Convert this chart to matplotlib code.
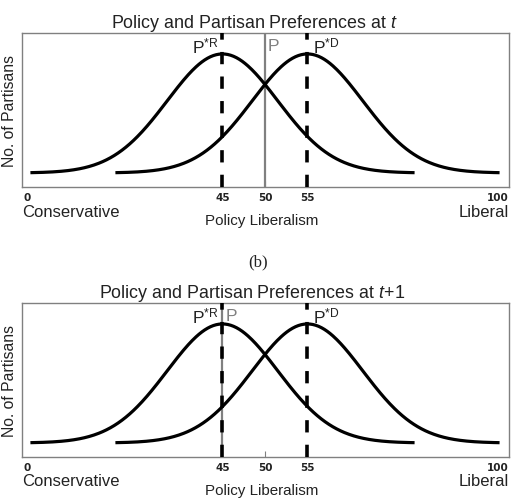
import numpy as np
import matplotlib
matplotlib.use("Agg")
import matplotlib.pyplot as plt

plt.rcParams['font.family'] = ['Liberation Sans', 'DejaVu Sans']
plt.rcParams['mathtext.fontset'] = 'custom'
plt.rcParams['mathtext.rm'] = 'Liberation Sans'
plt.rcParams['mathtext.it'] = 'Liberation Sans:italic'

# ---- data ----
rep_mean = 45
dem_mean = 55
spread_sd = 6.5
curve_halfwidth = 22.6
policy_t = 50
policy_t1 = 45
major_ticks = [45, 50, 55]
major_labels = ["45", "50", "55"]
end_ticks = [22.0, 77.4]
end_labels = ["0", "100"]
titles = ["Policy and Partisan Preferences at $\\it{t}$",
          "Policy and Partisan Preferences at $\\it{t\\!+\\!1}$"]
policies = [policy_t, policy_t1]

TXT = "#222222"
GRAY = "#808080"

fig = plt.figure(figsize=(5.16, 5.01), dpi=100)
W, H = 516, 501

def fx(px):
    return px / W

def fy(py):
    return 1 - py / H

def panel(top_px, title, policy, title_y, title_x):
    bottom_px = top_px + 154
    ax = fig.add_axes([fx(22), fy(bottom_px), fx(509) - fx(22), 154 / H])
    ax.set_xlim(21.41, 78.71)
    ax.set_ylim(-0.118, 1.176)
    for mu in (rep_mean, dem_mean):
        x = np.linspace(mu - curve_halfwidth, mu + curve_halfwidth, 400)
        y = np.exp(-(x - mu) ** 2 / (2 * spread_sd ** 2))
        ax.plot(x, y, color="black", lw=2.3, solid_capstyle="butt", zorder=3)
    for mu in (rep_mean, dem_mean):
        ax.axvline(mu, color="black", lw=2.6, dashes=(3.4, 3.4),
                   dash_capstyle="butt", zorder=4)
    ax.axvline(policy, color=GRAY, lw=1.6, zorder=2)
    for s in ax.spines.values():
        s.set_color(GRAY)
        s.set_linewidth(1.0)
    ax.set_yticks([])
    ax.set_xticks(major_ticks)
    ax.set_xticklabels(major_labels)
    ax.set_xticks(end_ticks, minor=True)
    ax.set_xticklabels(end_labels, minor=True)
    ax.tick_params(axis="x", which="major", direction="in", length=4,
                   color=GRAY, pad=4, labelsize=7.5, labelcolor=TXT)
    ax.tick_params(axis="x", which="minor", direction="in", length=0,
                   pad=4, labelsize=7.5, labelcolor=TXT)
    for lab in ax.get_xticklabels(which="both"):
        lab.set_fontfamily("DejaVu Sans")
        lab.set_fontweight("bold")
    # line labels
    ytxt = 1.06
    ax.text(rep_mean - 0.5, ytxt, r"P$^{\mathregular{*R}}$", ha="right",
            va="center", fontsize=12.5, color=TXT, zorder=6)
    ax.text(dem_mean + 0.6, ytxt, r"P$^{\mathregular{*D}}$", ha="left",
            va="center", fontsize=12.5, color=TXT, zorder=6)
    ax.text(policy + 0.35, ytxt, "P", ha="left", va="center",
            fontsize=12.5, color=GRAY, zorder=6)
    # side labels
    fig.text(fx(22), fy(bottom_px + 25), "Conservative", ha="left",
             va="center", fontsize=12, color=TXT)
    fig.text(fx(509), fy(bottom_px + 25), "Liberal", ha="right",
             va="center", fontsize=12, color=TXT)
    fig.text(fx(262), fy(bottom_px + 34), "Policy Liberalism", ha="center",
             va="center", fontsize=10.9, color=TXT)
    fig.text(fx(10), fy(top_px + 78), "No. of Partisans", ha="center",
             va="center", rotation=90, fontsize=11.3, color=TXT)
    fig.text(fx(title_x), fy(title_y), title, ha="center", va="center",
             fontsize=12.9, color=TXT)
    return ax

panel(33, titles[0], policies[0], 24, 254)
panel(303, titles[1], policies[1], 294, 252)
fig.text(fx(258), fy(262), "(b)", ha="center", va="center",
         fontsize=12, color=TXT, family="Liberation Serif")

fig.savefig("out.png", dpi=100)
